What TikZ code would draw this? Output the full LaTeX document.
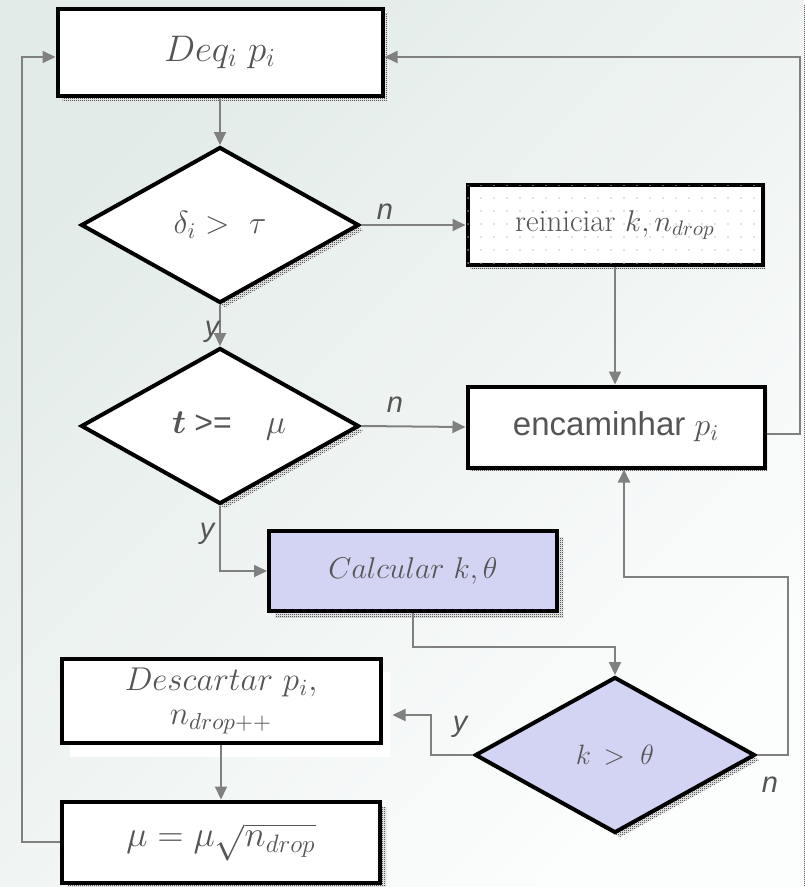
\RequirePackage{fix-cm}
\documentclass[tikz,border=0pt]{standalone}
\usepackage{amsmath,bm}
\usepackage{fontspec}
\setsansfont{Liberation Sans}
\usetikzlibrary{shapes.geometric,arrows.meta,patterns,shadows}

\definecolor{textgray}{HTML}{555555}
\definecolor{linegray}{HTML}{808080}
\definecolor{lav}{HTML}{D3D3F3}
\definecolor{bgL}{HTML}{E2EBE8}
\definecolor{bgR}{HTML}{FCFDFD}

% math set at half size and enlarged, so the math fonts stay in range
\newcommand{\mth}[2]{\scalebox{2}{\fontsize{#1}{#1}\selectfont#2}}

% fine black/white checker used for the drop shadows
\pgfdeclarepatternformonly{finecheck}{\pgfqpoint{0pt}{0pt}}{\pgfqpoint{2pt}{2pt}}{\pgfqpoint{2pt}{2pt}}{%
  \pgfpathrectangle{\pgfqpoint{0pt}{0pt}}{\pgfqpoint{1pt}{1pt}}%
  \pgfpathrectangle{\pgfqpoint{1pt}{1pt}}{\pgfqpoint{1pt}{1pt}}%
  \pgfusepath{fill}}
% sparse dot grid for the reset box
\pgfdeclarepatternformonly{sparsedots}{\pgfqpoint{-1pt}{-1pt}}{\pgfqpoint{1pt}{1pt}}{\pgfqpoint{13pt}{13pt}}{%
  \pgfpathcircle{\pgfqpoint{0pt}{0pt}}{0.8pt}\pgfusepath{fill}}

\tikzset{
  shade/.style={
    general shadow={shadow xshift=#1,shadow yshift=-#1,fill=white},
    general shadow={shadow xshift=#1,shadow yshift=-#1,pattern=finecheck,pattern color=black}},
  shade/.default=5pt,
  box/.style={rectangle, draw=black, line width=4pt, fill=white, inner sep=0pt,
    text=textgray, font=\fontsize{30}{36}\selectfont},
  decision/.style={diamond, aspect=1.8, draw=black, line width=4pt, fill=white,
    inner sep=0pt, minimum width=278pt, minimum height=156pt,
    text=textgray, font=\fontsize{30}{36}\selectfont},
  conn/.style={draw=linegray, line width=2pt, -{Triangle[length=13pt,width=12pt]}},
  lbl/.style={text=textgray, font=\fontsize{29}{30}\selectfont\sffamily\itshape}
}

\begin{document}
\begin{tikzpicture}[x=1pt,y=-1pt]
  % background
  \shade[top color=bgL, bottom color=bgR, shading angle=45] (0,0) rectangle (804,887);
  \useasboundingbox (0,0) rectangle (804,887);

  % process boxes and decisions
  \node[box, shade, minimum width=325pt, minimum height=87pt] (deq) at (220,52)
    {\mth{18.5}{$Deq_i\;p_i$}};
  \node[decision, shade] (d1) at (220,225) {\mth{16}{$\delta_i >\,\,\tau$}};
  \node[box, shade=3pt, minimum width=295pt, minimum height=80pt,
        postaction={pattern=sparsedots, pattern color=black!22},
        font=\fontsize{31}{36}\selectfont] (reinit) at (615,225)
    {reiniciar \mth{15}{$k,n_{drop}$}};
  \node[decision, shade] (d2) at (220,426)
    {\hspace{18pt}\mth{17}{$\bm{t}$}\;{\fontsize{32}{36}\selectfont\sffamily >=}\;\;\; \mth{17}{$\mu$}};
  \node[box, shade=3pt, minimum width=297pt, minimum height=81pt,
        font=\fontsize{33}{36}\selectfont\sffamily] (enc) at (616,427)
    {encaminhar \mth{16}{$p_i$}};
  \node[box, shade=6pt, fill=lav, minimum width=288pt, minimum height=80pt] (calc) at (413,571)
    {\mth{15}{$Calcular\ k,\theta$}};
  \node[decision, shade, fill=lav, minimum width=280pt] (d3) at (615,755)
    {\mth{14}{$k\,>\;\theta$}};
  % white backing behind the discard box
  \fill[white] (70,672) rectangle (390,757);
  \node[box, minimum width=319pt, minimum height=84pt, align=center,
        font=\fontsize{30}{40}\selectfont] (desc) at (221,701)
    {\mth{16.5}{$Descartar\ p_i,$}\\[-6pt]\mth{16.5}{$n_{drop++}$}};
  \node[box, shade=6pt, minimum width=318pt, minimum height=81pt] (mu) at (221,842)
    {\mth{18}{$\mu=\mu\sqrt{n_{drop}}$}};

  % connectors
  \draw[conn] (deq.south) -- (d1.north);
  \draw[conn] (d1.east) -- (reinit.west);
  \draw[conn] (d1.south) -- (d2.north);
  \draw[conn] (reinit.south) -- (reinit.south |- enc.north);
  \draw[conn] (d2.east) -- (enc.west);
  \draw[conn] (d2.south) |- (calc.west);
  \draw[conn] (calc.south) -- ++(0,34) -| (d3.north);
  \draw[conn] (d3.west) -- ++(-42,0) |- ([xshift=10pt,yshift=-14pt]desc.east);
  \draw[conn] (d3.east) -- ++(31,0) -- ++(0,-178) -| ([xshift=8pt]enc.south);
  \draw[conn] (desc.south) -- (mu.north);
  \draw[conn] (mu.west) -- ++(-38,0) |- ([yshift=-5pt]deq.west);
  \draw[conn] ([yshift=-7pt]enc.east) -- ++(33,0) |- ([yshift=-5pt]deq.east);

  % branch labels
  \node[lbl] (n1) at (385,212) {n};
  \node[lbl] (n2) at (395,405) {n};
  \node[lbl] (y1) at (212,332) {y};
  \node[lbl] (y2) at (207,534) {y};
  \node[lbl] (y3) at (460,727) {y};
  \node[lbl] (n3) at (770,785) {n};
\end{tikzpicture}
\end{document}
